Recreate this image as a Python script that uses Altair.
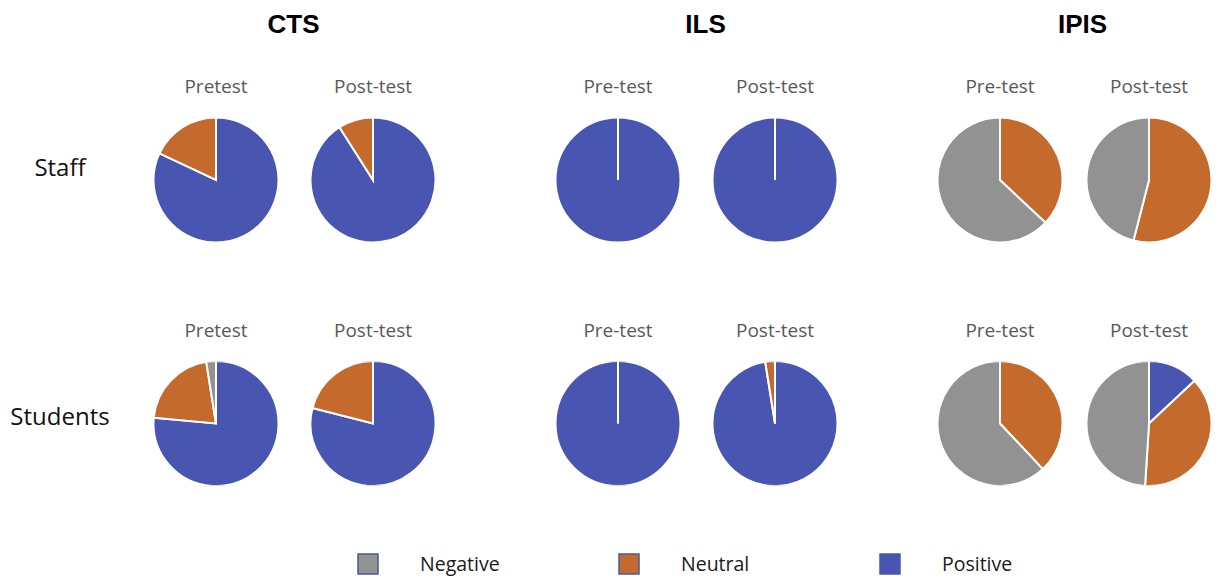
import altair as alt
import pandas as pd

# ---- data -------------------------------------------------------------
groups = ["CTS", "ILS", "IPIS"]
respondents = ["Staff", "Students"]
categories = ["Negative", "Neutral", "Positive"]
category_order = [2, 1, 0]          # Positive drawn first from 12 o'clock
colors = ["#929292", "#C46A2D", "#4856B2"]
phases = ["pre", "post"]
cts_tests = ["Pretest", "Post-test"]
ils_tests = ["Pre-test", "Post-test"]
ipis_tests = ["Pre-test", "Post-test"]

# order of values: CTS pre, CTS post, ILS pre, ILS post, IPIS pre, IPIS post (percent)
staff_negative = [0, 0, 0, 0, 63, 46]
staff_neutral = [18, 9, 0, 0, 37, 54]
staff_positive = [82, 91, 100, 100, 0, 0]
students_negative = [2.5, 0, 0, 0, 62, 49]
students_neutral = [21, 21, 0, 2.5, 38, 38]
students_positive = [76.5, 79, 100, 97.5, 0, 13]

# ---- table ------------------------------------------------------------
test_labels = {"CTS": cts_tests, "ILS": ils_tests, "IPIS": ipis_tests}
series = {
    "Staff": [staff_negative, staff_neutral, staff_positive],
    "Students": [students_negative, students_neutral, students_positive],
}
rows = []
for resp in respondents:
    for gi, g in enumerate(groups):
        for pi, ph in enumerate(phases):
            idx = gi * 2 + pi
            # rows listed in drawing order (Positive first, so slice borders stay on top)
            for ci in sorted(range(len(categories)), key=lambda c: category_order[c]):
                rows.append({
                    "respondent": resp, "group": g, "phase": ph,
                    "test": test_labels[g][pi], "category": categories[ci],
                    "order": category_order[ci],
                    "value": series[resp][ci][idx],
                })
df = pd.DataFrame(rows)

color_scale = alt.Scale(domain=categories, range=colors)
PIE = 124
PIE_TITLE = dict(font="Open Sans", fontSize=19, fontWeight="normal",
                 color="#595959", offset=21)
GROUP_TITLE = dict(anchor="middle", font="Liberation Sans", fontSize=26,
                   fontWeight="bold", color="#000000", offset=40)
GROUP_TITLE_SHIFT = {"CTS": -1, "ILS": 9, "IPIS": 8}
ROW_GAP = 79.5


def pie(resp, g, ph, label):
    return (
        alt.Chart(df)
        .transform_filter(
            f"datum.respondent == '{resp}' && datum.group == '{g}' && datum.phase == '{ph}'"
        )
        .mark_arc(stroke="white", strokeWidth=2, outerRadius=62.5, clip=True)
        .encode(
            theta=alt.Theta("value:Q", stack=True),
            color=alt.Color("category:N", scale=color_scale, legend=None),
            order=alt.Order("order:Q"),
        )
        .properties(width=PIE, height=PIE, title=alt.Title(label, **PIE_TITLE))
    )


def group_block(g, inner):
    rws = [
        alt.hconcat(
            pie(resp, g, "pre", test_labels[g][0]),
            pie(resp, g, "post", test_labels[g][1]),
            spacing=inner,
        )
        for resp in respondents
    ]
    return alt.vconcat(*rws, spacing=ROW_GAP,
                       title=alt.Title(g, dx=GROUP_TITLE_SHIFT[g], **GROUP_TITLE))


label_df = pd.DataFrame({"label": respondents})


def row_label(name, dy):
    return (
        alt.Chart(label_df)
        .transform_filter(f"datum.label == '{name}'")
        .mark_text(font="Open Sans", fontSize=24, color="#111111",
                   baseline="alphabetic", dy=dy)
        .encode(text="label:N")
        .properties(width=104, height=PIE, title=alt.Title(" ", **PIE_TITLE))
    )


label_col = alt.vconcat(row_label("Staff", -4), row_label("Students", 1),
                        spacing=ROW_GAP, title=alt.Title(" ", **GROUP_TITLE))

left = alt.hconcat(label_col, group_block("CTS", 33), spacing=42)
right = alt.hconcat(group_block("ILS", 33), group_block("IPIS", 25), spacing=101)
main = alt.hconcat(left, right, spacing=121)

legend_df = pd.DataFrame({"category": categories,
                          "slot": list(range(len(categories)))})
lbase = alt.Chart(legend_df).encode(
    x=alt.X("slot:Q", axis=None,
            scale=alt.Scale(domain=[-1.3793, 3.2299], zero=False, nice=False))
)
squares = lbase.mark_square(size=400, opacity=1, stroke="#4a5a9c", strokeWidth=1.5).encode(
    color=alt.Color("category:N", scale=color_scale, legend=None)
)
texts = lbase.mark_text(align="left", baseline="middle", dx=52, dy=1,
                        font="Open Sans", fontSize=19.5, color="#1a1a1a").encode(
    text="category:N"
)
legend = alt.layer(squares, texts).properties(width=1203, height=22)

chart = (
    alt.vconcat(main, legend, spacing=65)
    .properties(padding={"top": 4, "left": 0, "right": 0, "bottom": 0})
    .configure_view(stroke=None)
)

chart.save("out.html", embed_options={"renderer": "svg", "actions": False})
